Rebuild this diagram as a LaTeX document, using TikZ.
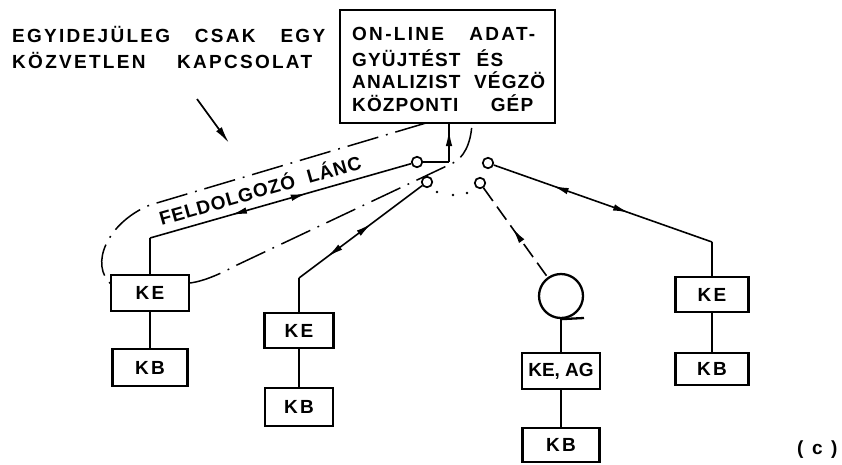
\documentclass[tikz,border=0pt]{standalone}
\usepackage{fontspec}
\setmainfont{Liberation Sans}
\newfontfamily\lettA[LetterSpace=12]{Liberation Sans}
\newfontfamily\lettB[LetterSpace=6]{Liberation Sans}
\newfontfamily\lettC[LetterSpace=5]{Liberation Sans}
\newfontfamily\lettD[LetterSpace=0]{Liberation Sans}
\newfontfamily\lettE[LetterSpace=45]{Liberation Sans}
\newcommand\fsz{\bfseries\fontsize{19}{22}\selectfont}
\usetikzlibrary{arrows.meta,decorations.markings}
\tikzset{
  blk/.style={draw, line width=2.8pt, inner sep=0pt, font=\lettA\fsz},
  txt/.style={inner sep=0pt, anchor=base west},
  conn/.style={line width=1.6pt},
  sw/.style={circle, draw, line width=1.7pt, minimum size=10.5pt, inner sep=0pt, fill=white},
  fwd/.style={postaction={decorate, decoration={markings, mark=at position #1 with {\arrow{Latex[length=16pt,width=6.5pt]}}}}},
  bwd/.style={postaction={decorate, decoration={markings, mark=at position #1 with {\arrowreversed{Latex[length=16pt,width=6.5pt]}}}}},
  dashdot/.style={line width=1.5pt, dash pattern=on 32pt off 8pt on 1.8pt off 8pt},
  dsh/.style={line width=1.6pt, dash pattern=on 16pt off 7pt},
}
\begin{document}
\begin{tikzpicture}[x=1pt,y=-1pt]
\useasboundingbox (0,0) rectangle (842,464);

% left caption
\node[txt, font=\lettA\fsz] (l1) at (12,42) {\makebox[313pt][s]{EGYIDEJÜLEG CSAK EGY}};
\node[txt, font=\lettA\fsz] (l2) at (12,68) {\makebox[300pt][s]{KÖZVETLEN KAPCSOLAT}};

% central computer
\node[blk, minimum width=215pt, minimum height=113pt] (cpu) at (447.5,66.5) {};
\node[txt, font=\lettA\fsz] (t1) at (352,40) {\makebox[183pt][s]{ON-LINE ADAT-}};
\node[txt, font=\lettB\fsz] (t2) at (352,66) {\makebox[151pt][s]{GYÜJTÉST ÉS}};
\node[txt, font=\lettB\fsz] (t3) at (352,88) {\makebox[193pt][s]{ANALIZIST VÉGZÖ}};
\node[txt, font=\lettB\fsz] (t4) at (352,111) {\makebox[181pt][s]{KÖZPONTI GÉP}};

% pointer arrow
\coordinate (p1) at (197,99);
\coordinate (p2) at (229,143);
\draw[line width=1.7pt, -{Latex[length=17pt,width=7pt]}] (p1) -- (p2);

% terminal boxes
\node[blk, minimum width=78pt, minimum height=36pt] (ke1) at (150,293) {KE};
\node[blk, minimum width=75pt, minimum height=37pt] (kb1) at (150,367.5) {KB};
\node[blk, minimum width=69pt, minimum height=35pt] (ke2) at (299,330.5) {KE};
\node[blk, minimum width=68pt, minimum height=38pt] (kb2) at (299,407) {KB};
\node[blk, minimum width=78pt, minimum height=36pt, font=\lettD\fsz] (ke3) at (561,371) {KE, AG};
\node[blk, minimum width=77pt, minimum height=34pt] (kb3) at (561,445) {KB};
\node[blk, minimum width=73pt, minimum height=35pt] (ke4) at (712,294.5) {KE};
\node[blk, minimum width=73pt, minimum height=32pt] (kb4) at (712,369) {KB};

% tape
\node[circle, draw, line width=2.3pt, minimum size=44pt, inner sep=0pt] (tape) at (561,296) {};
\coordinate (tt) at (584,318);
\draw[line width=2.3pt] (tape.south) -- (tt);

% switch contacts
\node[sw] (c1) at (417,162) {};
\node[sw] (c2) at (427,182) {};
\node[sw] (c3) at (488,163) {};
\node[sw] (c4) at (480,183) {};

% corners
\coordinate (j1) at (449,162);
\coordinate (k1) at (150,238);
\coordinate (k2) at (299,278);
\coordinate (k3) at (712,242);

% connectors
\draw[conn] (c1) -- (j1);
\draw[conn, fwd=0.85] (j1) -- (j1 |- cpu.south);
\draw[conn, bwd=0.40, fwd=0.69] (c1) -- (k1);
\draw[conn] (k1) -- (ke1.north);
\draw[conn, bwd=0.41, fwd=0.77] (c2) -- (k2);
\draw[conn] (k2) -- (ke2.north);
\draw[conn, bwd=0.27, fwd=0.62] (c3) -- (k3);
\draw[conn] (k3) -- (ke4.north);
\draw[dsh, bwd=0.45] (c4) -- (tape);
\draw[conn] (tape.south) -- (ke3.north);
\draw[conn] (ke1) -- (kb1);
\draw[conn] (ke2) -- (kb2);
\draw[conn] (ke3) -- (kb3);
\draw[conn] (ke4) -- (kb4);

% dots between contacts
\fill (437,192) circle (1.4pt);
\fill (453,195) circle (1.4pt);
\fill (467,193) circle (1.4pt);

% chain label
\node[inner sep=0pt, anchor=base, rotate=15.9, font=\lettC\fsz] (lanc) at (262,197) {\makebox[209pt][s]{FELDOLGOZÓ LÁNC}};

% dash-dot loop
\coordinate (d1) at (426,123);
\coordinate (d2) at (112,285);
\coordinate (d3) at (190,283);
\coordinate (d4) at (472,123);
\draw[dashdot] (d1) -- (150,205) .. controls (108,222) and (88,265) .. (d2);
\draw[dashdot] (d3) .. controls (205,281) and (222,273) .. (237,265) -- (453,163) .. controls (463,158) and (471,145) .. (d4);

% caption (c)
\node[txt, font=\lettE\fsz] (cap) at (797,454) {(c)};
\end{tikzpicture}
\end{document}
